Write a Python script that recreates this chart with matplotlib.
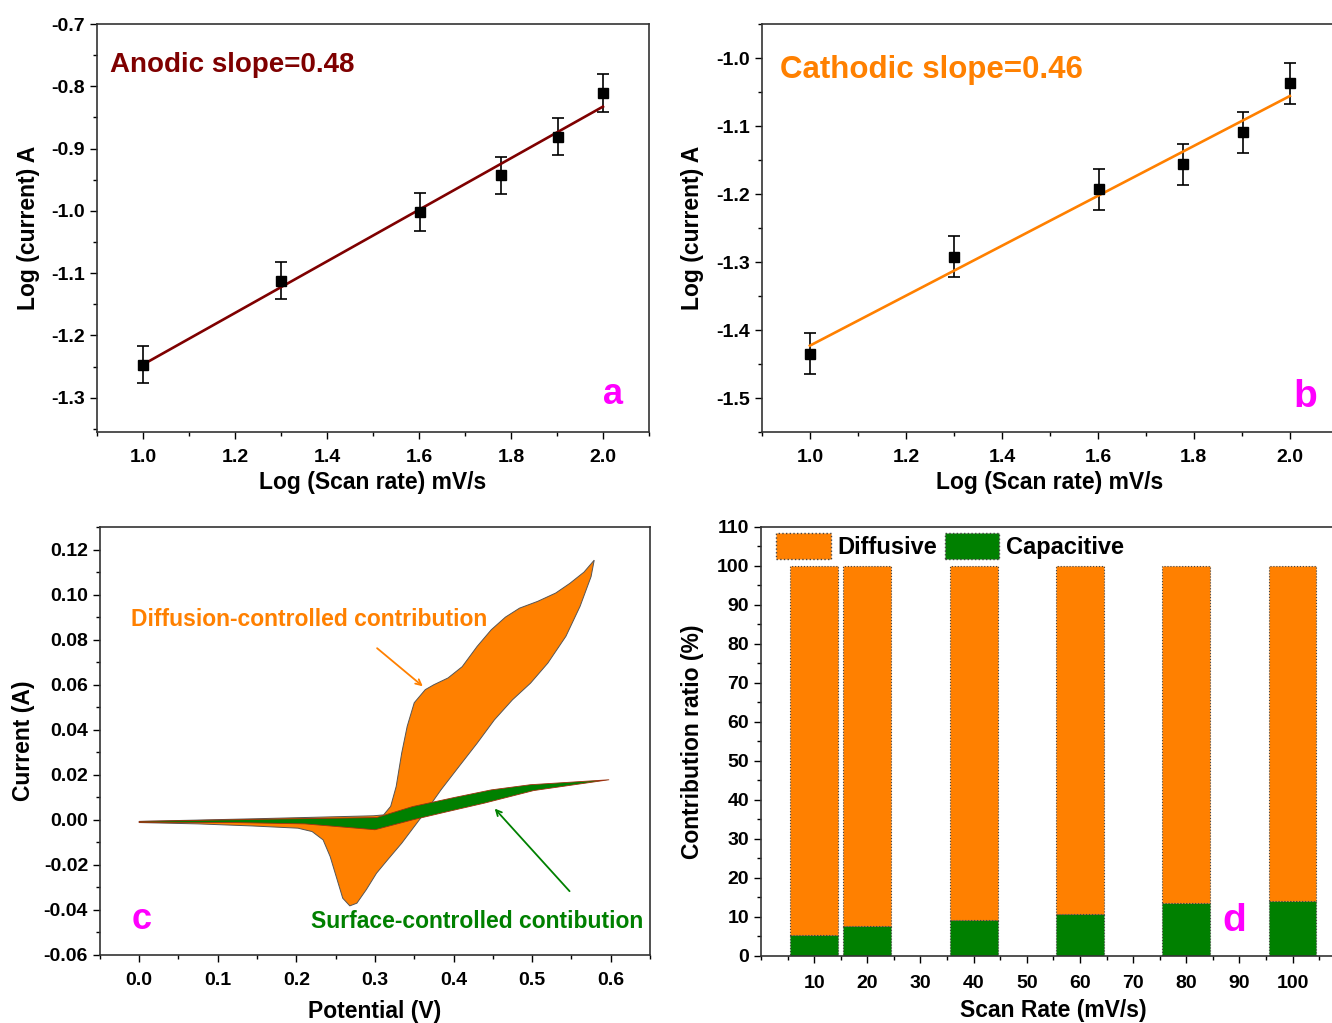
import numpy as np
import matplotlib
matplotlib.use("Agg")
import matplotlib.pyplot as plt
from matplotlib.ticker import MultipleLocator
from matplotlib.patches import Patch

plt.rcParams["font.family"] = ["Liberation Sans", "DejaVu Sans"]
plt.rcParams["font.weight"] = "bold"
plt.rcParams["axes.labelweight"] = "bold"
plt.rcParams["axes.unicode_minus"] = False

ORANGE = "#FF8000"
GREEN = "#008000"
DARKRED = "#7F0000"
MAGENTA = "#FF00FF"

# panel a / b : log(scan rate) vs log(peak current)
log_rate = [1.0, 1.301, 1.602, 1.778, 1.903, 2.0]
anodic = [-1.247, -1.112, -1.002, -0.943, -0.881, -0.811]
cathodic = [-1.435, -1.292, -1.193, -1.156, -1.109, -1.037]
err = 0.03

# panel c : CV loop (total) and capacitive loop
cv_total_x = [0.0, 0.15, 0.298, 0.311, 0.320, 0.327, 0.334, 0.341, 0.350, 0.364,
              0.375, 0.393, 0.411, 0.430, 0.448, 0.466, 0.484, 0.507, 0.530,
              0.548, 0.566, 0.579,
              0.575, 0.561, 0.543, 0.520, 0.498, 0.475, 0.452, 0.430, 0.407,
              0.384, 0.366, 0.350, 0.334, 0.316, 0.302, 0.289, 0.277, 0.268,
              0.259, 0.252, 0.243, 0.234, 0.220, 0.202, 0.143, 0.075, 0.0]
cv_total_y = [-0.0007, 0.0005, 0.0018, 0.0022, 0.006, 0.0148, 0.0296, 0.0415,
              0.052, 0.0578, 0.060, 0.063, 0.068, 0.077, 0.0844, 0.090, 0.094,
              0.097, 0.1007, 0.105, 0.110, 0.1153,
              0.108, 0.0948, 0.0815, 0.0696, 0.0607, 0.0533, 0.0444, 0.034,
              0.0237, 0.0133, 0.0044, -0.003, -0.0104, -0.0178, -0.0237,
              -0.031, -0.037, -0.0382, -0.0348, -0.0267, -0.0163, -0.0089,
              -0.0052, -0.0037, -0.0027, -0.0018, -0.0012]
cv_cap_x = [0.0, 0.166, 0.302, 0.348, 0.402, 0.448, 0.498, 0.598,
            0.502, 0.439, 0.393, 0.348, 0.300, 0.211, 0.120, 0.0]
cv_cap_y = [-0.0007, 0.0003, 0.001, 0.0059, 0.010, 0.0133, 0.0156, 0.0178,
            0.013, 0.0074, 0.0037, 0.0, -0.0044, -0.0018, -0.0012, -0.0012]

# panel d : contribution ratio
scan_rate = [10, 20, 40, 60, 80, 100]
capacitive = [5.5, 7.8, 9.2, 10.7, 13.7, 14.0]
diffusive = [100 - c for c in capacitive]

TICK_FS = 14
LABEL_FS = 16.5


def style_axes(ax, xpad=7):
    ax.tick_params(which="both", direction="out", top=False, right=False,
                   labelsize=TICK_FS, width=1.0)
    ax.tick_params(which="major", length=5)
    ax.tick_params(which="minor", length=3)
    ax.tick_params(axis="x", pad=xpad)
    for s in ax.spines.values():
        s.set_linewidth(1.2)
        s.set_color("#333333")


fig = plt.figure(figsize=(13.32, 10.23), dpi=100)

# ---------- a ----------
ax = fig.add_axes([0.0728, 0.5777, 0.4144, 0.3988])
ax.errorbar(log_rate, anodic, yerr=err, fmt="s", color="black", ms=6.5,
            capsize=4, elinewidth=1.2, capthick=1.2)
k, b = np.polyfit(log_rate, anodic, 1)
xs = np.array([log_rate[0], log_rate[-1]])
ax.plot(xs, k * xs + b, color=DARKRED, lw=1.9)
ax.set_xlim(0.9, 2.1)
ax.set_ylim(-1.355, -0.7)
ax.xaxis.set_major_locator(MultipleLocator(0.2))
ax.xaxis.set_minor_locator(MultipleLocator(0.1))
ax.yaxis.set_major_locator(MultipleLocator(0.1))
ax.yaxis.set_minor_locator(MultipleLocator(0.05))
ax.set_xlabel("Log (Scan rate) mV/s", fontsize=LABEL_FS, labelpad=4)
ax.set_ylabel("Log (current) A", fontsize=LABEL_FS, labelpad=8)
ax.text(0.024, 0.9, "Anodic slope=0.48", transform=ax.transAxes, color=DARKRED,
        fontsize=20, va="center")
ax.text(0.935, 0.093, "a", transform=ax.transAxes, color=MAGENTA,
        fontsize=26, ha="center", va="center")
style_axes(ax)

# ---------- b ----------
ax = fig.add_axes([0.572, 0.5777, 0.4324, 0.3988])
ax.errorbar(log_rate, cathodic, yerr=err, fmt="s", color="black", ms=6.5,
            capsize=4, elinewidth=1.2, capthick=1.2)
k, b = np.polyfit(log_rate, cathodic, 1)
ax.plot(xs, k * xs + b, color=ORANGE, lw=1.9)
ax.set_xlim(0.9, 2.1)
ax.set_ylim(-1.55, -0.95)
ax.xaxis.set_major_locator(MultipleLocator(0.2))
ax.xaxis.set_minor_locator(MultipleLocator(0.1))
ax.yaxis.set_major_locator(MultipleLocator(0.1))
ax.yaxis.set_minor_locator(MultipleLocator(0.05))
ax.set_xlabel("Log (Scan rate) mV/s", fontsize=LABEL_FS, labelpad=4)
ax.set_ylabel("Log (current) A", fontsize=LABEL_FS, labelpad=9)
ax.text(0.031, 0.887, "Cathodic slope=0.46", transform=ax.transAxes,
        color=ORANGE, fontsize=22.5, va="center")
ax.text(0.944, 0.086, "b", transform=ax.transAxes, color=MAGENTA,
        fontsize=28, ha="center", va="center")
style_axes(ax)

# ---------- c ----------
ax = fig.add_axes([0.075, 0.0665, 0.413, 0.4183])
ax.fill(cv_total_x, cv_total_y, facecolor=ORANGE, edgecolor="#555555", lw=0.7)
ax.fill(cv_cap_x, cv_cap_y, facecolor=GREEN, edgecolor="#A03010", lw=0.6)
ax.set_xlim(-0.05, 0.65)
ax.set_ylim(-0.06, 0.13)
ax.xaxis.set_major_locator(MultipleLocator(0.1))
ax.xaxis.set_minor_locator(MultipleLocator(0.05))
ax.yaxis.set_minor_locator(MultipleLocator(0.01))
ax.set_yticks(np.arange(-0.06, 0.121, 0.02))
ax.set_xlabel("Potential (V)", fontsize=LABEL_FS, labelpad=8)
ax.set_ylabel("Current (A)", fontsize=LABEL_FS, labelpad=6)
ax.text(-0.01, 0.0889, "Diffusion-controlled contribution", color=ORANGE,
        fontsize=16.5, va="center")
ax.annotate("", xy=(0.3636, 0.0585), xytext=(0.30, 0.077),
            arrowprops=dict(arrowstyle="->", color=ORANGE, lw=1.3))
ax.text(0.641, -0.0452, "Surface-controlled contibution", color=GREEN,
        fontsize=16.5, va="center", ha="right")
ax.annotate("", xy=(0.45, 0.0059), xytext=(0.55, -0.0326),
            arrowprops=dict(arrowstyle="->", color=GREEN, lw=1.3))
ax.text(-0.009, -0.0444, "c", color=MAGENTA, fontsize=26, va="center")
style_axes(ax)

# ---------- d ----------
ax = fig.add_axes([0.5713, 0.0655, 0.439, 0.4194])
ax.bar(scan_rate, capacitive, width=9, color=GREEN, edgecolor="#444444",
       linestyle=":", lw=0.8, label="Capacitive")
ax.bar(scan_rate, diffusive, width=9, bottom=capacitive, color=ORANGE,
       edgecolor="#444444", linestyle=":", lw=0.8, label="Diffusive")
ax.set_xlim(0, 110)
ax.set_ylim(0, 110)
ax.set_xticks(range(10, 101, 10))
ax.xaxis.set_minor_locator(MultipleLocator(5))
ax.yaxis.set_major_locator(MultipleLocator(10))
ax.yaxis.set_minor_locator(MultipleLocator(5))
ax.set_xlabel("Scan Rate (mV/s)", fontsize=LABEL_FS, labelpad=5)
ax.set_ylabel("Contribution ratio (%)", fontsize=LABEL_FS, labelpad=9)
handles = [Patch(facecolor=ORANGE, edgecolor="#444444", linestyle=":"),
           Patch(facecolor=GREEN, edgecolor="#444444", linestyle=":")]
ax.legend(handles, ["Diffusive", "Capacitive"], ncol=2, frameon=False,
          loc="upper left", bbox_to_anchor=(-0.01, 1.035), fontsize=17,
          handlelength=2.3, handleheight=1.3, handletextpad=0.3,
          columnspacing=0.3)
ax.text(89, 9, "d", color=MAGENTA, fontsize=28, ha="center", va="center")
style_axes(ax, xpad=9)

fig.savefig("out.png", dpi=100)
